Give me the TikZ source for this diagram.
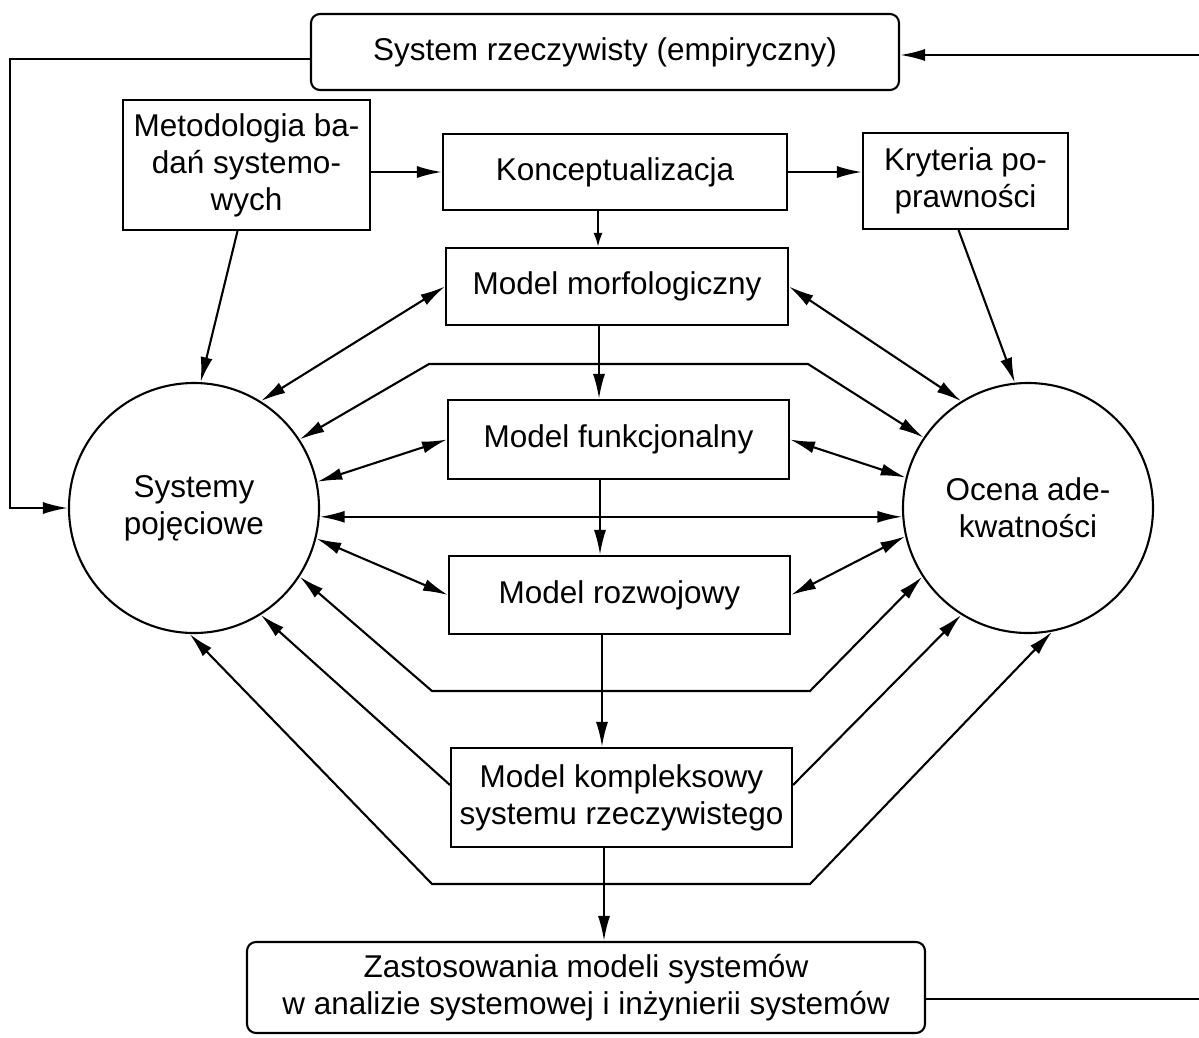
\documentclass[tikz,border=0pt]{standalone}
\usepackage{fontspec}
\setmainfont{Liberation Sans}
\usetikzlibrary{arrows.meta}
\begin{document}
\begin{tikzpicture}[x=1pt,y=-1pt,
  every node/.style={font=\fontsize{31.5}{37}\selectfont},
  box/.style={draw, line width=2.1pt, inner sep=0pt, align=center},
  rbox/.style={box, rounded corners=9pt},
  circ/.style={draw, circle, line width=2.1pt, minimum size=250pt, inner sep=0pt, align=center},
  ln/.style={line width=2.1pt},
  ar/.style={ln, -{Latex[length=25pt,width=12pt]}},
  sar/.style={ln, -{Latex[length=14pt,width=9pt]}},
  dar/.style={ln, {Latex[length=25pt,width=12pt]}-{Latex[length=25pt,width=12pt]}},
]
\fill[white] (0,0) rectangle (1199,1037);
\useasboundingbox (0,0) rectangle (1199,1037);

% nodes
\node[rbox, minimum width=588pt, minimum height=76pt] (top) at (605,52) {System rzeczywisty (empiryczny)};
\node[box, minimum width=247pt, minimum height=130pt] (meto) at (246.5,165) {Metodologia ba-\\dań systemo-\\wych};
\node[box, minimum width=344pt, minimum height=76pt] (konc) at (615,172) {Konceptualizacja};
\node[box, minimum width=205pt, minimum height=96pt] (kryt) at (965.5,181) {Kryteria po-\\prawności};
\node[box, minimum width=342pt, minimum height=77pt] (morf) at (617,286.5) {Model morfologiczny};
\node[box, minimum width=341pt, minimum height=79pt] (funk) at (618.5,439.5) {Model funkcjonalny};
\node[box, minimum width=341pt, minimum height=78pt] (rozw) at (619.5,595) {Model rozwojowy};
\node[box, minimum width=341pt, minimum height=99pt] (komp) at (621.5,797.5) {Model kompleksowy\\systemu rzeczywistego};
\node[rbox, minimum width=678pt, minimum height=91pt] (zast) at (586,987.5) {Zastosowania modeli systemów\\w analizie systemowej i inżynierii systemów};
\node[circ] (sys) at (194,508) {Systemy\\pojęciowe};
\node[circ] (ade) at (1028,508) {Ocena ade-\\kwatności};

% helper coordinates
\coordinate (v1) at (598,0);
\coordinate (v2) at (599,0);
\coordinate (v3) at (600,0);
\coordinate (v4) at (602,0);
\coordinate (v5) at (604,0);
\coordinate (rt) at (1199,55);
\coordinate (rb) at (1199,999);
\coordinate (lc1) at (10,59);
\coordinate (lc2) at (10,508);
\coordinate (b1l) at (429,364);
\coordinate (b1r) at (808,364);
\coordinate (b3l) at (432,691);
\coordinate (b3r) at (810,691);
\coordinate (b4l) at (432,884);
\coordinate (b4r) at (810,884);

% top part
\draw[ar] ([yshift=-7pt]top.west) -- (lc1) -- (lc2) -- (sys.west);
\draw[ar] (rt) -- (rt -| top.east);
\draw[ar] (meto.east |- konc.west) -- (konc.west);
\draw[ar] (konc.east) -- (konc.east -| kryt.west);
\draw[ar] ([xshift=-9pt]meto.south) -- (sys.87);
\draw[ar] ([xshift=-7pt]kryt.south) -- (ade.96);

% vertical chain
\draw[sar] (konc.south -| v1) -- (morf.north -| v1);
\draw[ar] (morf.south -| v2) -- (funk.north -| v2);
\draw[ar] (funk.south -| v3) -- (rozw.north -| v3);
\draw[ar] (rozw.south -| v4) -- (komp.north -| v4);
\draw[ar] (komp.south -| v5) -- (zast.north -| v5);

% model <-> circles
\draw[dar] (sys.58) -- (morf.west);
\draw[dar] (sys.12.7) -- (funk.west);
\draw[dar] (sys.-14.5) -- (rozw.west);
\draw[dar] (ade.122.5) -- (morf.east);
\draw[dar] (ade.166) -- (funk.east);
\draw[dar] (ade.193) -- (rozw.east);
\draw[ar] ([yshift=12.5pt]komp.west) -- (sys.-58);
\draw[ar] ([yshift=12.5pt]komp.east) -- (ade.238);

% buses
\draw[dar] (sys.33) -- (b1l) -- (b1r) -- (ade.146.4);
\draw[dar] (sys.-4.6) -- (ade.184.6);
\draw[dar] (sys.-33.4) -- (b3l) -- (b3r) -- (ade.213);
\draw[dar] (sys.-92) -- (b4l) -- (b4r) -- (ade.281);

% bottom feedback
\draw[ln] (rb -| zast.east) -- (rb);
\end{tikzpicture}
\end{document}
